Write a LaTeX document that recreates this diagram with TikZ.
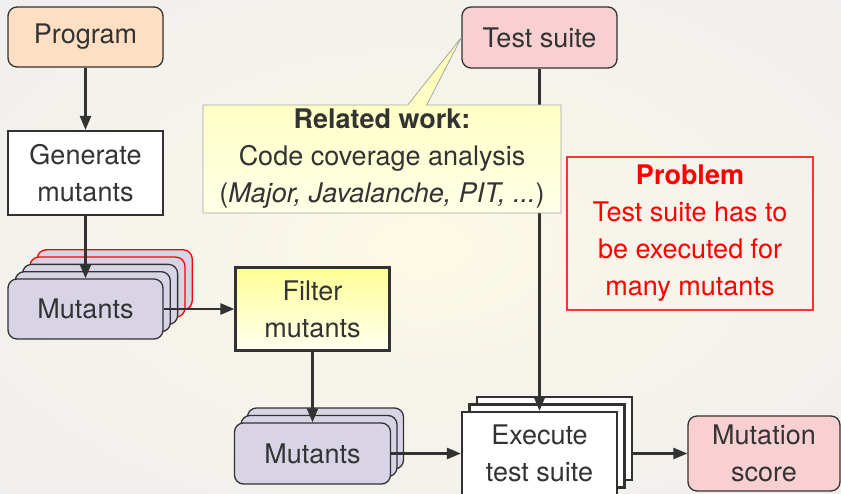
\documentclass[tikz,border=0pt]{standalone}
\usepackage{fontspec}
\setmainfont{TeX Gyre Heros}
\usetikzlibrary{arrows.meta,shapes.callouts}
\definecolor{bgin}{RGB}{253,250,228}
\definecolor{bgout}{RGB}{236,235,242}
\definecolor{txt}{RGB}{51,51,51}
\definecolor{edge}{RGB}{50,50,50}
\definecolor{peach}{RGB}{253,224,196}
\definecolor{pinkf}{RGB}{248,208,210}
\definecolor{lav}{RGB}{216,212,230}
\definecolor{yelA}{RGB}{255,255,150}
\definecolor{yelB}{RGB}{255,255,240}
\definecolor{calA}{RGB}{255,255,175}
\definecolor{calB}{RGB}{255,255,232}
\definecolor{probred}{RGB}{255,0,0}
\pgfdeclareradialshading{bgshade}{\pgfpoint{0bp}{0bp}}{color(0bp)=(bgin); color(14bp)=(bgin!60!bgout); color(50bp)=(bgout); color(72bp)=(bgout)}
\tikzset{
  base/.style={font=\fontsize{27}{37}\selectfont, text=txt, align=center, inner sep=0pt},
  rbox/.style={base, rounded corners=9pt, draw=edge, line width=1.3pt},
  sbox/.style={base, draw=edge, line width=2.2pt, fill=white},
  mutbox/.style={rbox, fill=lav},
  arr/.style={-{Triangle[length=14pt,width=11pt]}, line width=2.4pt, draw=edge},
}
\begin{document}
\begin{tikzpicture}[x=1pt,y=-1pt]
\useasboundingbox (0,0) rectangle (841,494);
\shade[shading=bgshade] (0,0) rectangle (841,494);

% Program and generation
\node[rbox, fill=peach, minimum width=155pt, minimum height=60pt] (prog) at (85.5,37) {Program};
\node[sbox, minimum width=155pt, minimum height=84pt] (gen) at (85.5,173) {Generate\\mutants};

% left mutants stack
\node[mutbox, draw=red, minimum width=155pt, minimum height=60pt] (m4) at (114.7,279.8) {};
\node[mutbox, draw=red, minimum width=155pt, minimum height=60pt] (m3) at (107.4,287.1) {};
\node[mutbox, minimum width=155pt, minimum height=60pt] (m2) at (100.1,294.4) {};
\node[mutbox, minimum width=155pt, minimum height=60pt] (m1) at (92.8,301.7) {};
\node[mutbox, minimum width=155pt, minimum height=60pt] (m0) at (85.5,309) {Mutants};

% filter
\node[base, draw=edge, line width=2.2pt, top color=yelA, bottom color=yelB, minimum width=154pt, minimum height=83pt] (filt) at (312.5,309) {Filter\\mutants};

% second mutants stack
\node[mutbox, minimum width=156pt, minimum height=61pt] (n2) at (325.5,438.5) {};
\node[mutbox, minimum width=156pt, minimum height=61pt] (n1) at (319,446) {};
\node[mutbox, minimum width=156pt, minimum height=61pt] (n0) at (312.5,453.5) {Mutants};

% test suite
\node[rbox, fill=pinkf, minimum width=155pt, minimum height=61pt] (ts) at (539.5,37.5) {Test suite};

% execute stack
\node[sbox, minimum width=155pt, minimum height=83pt] (ex2) at (554.5,438.5) {};
\node[sbox, minimum width=155pt, minimum height=83pt] (ex1) at (547,446) {};
\node[sbox, minimum width=155pt, minimum height=83pt] (ex0) at (539.5,453.5) {Execute\\test suite};

% mutation score
\node[rbox, fill=pinkf, minimum width=152pt, minimum height=75pt] (ms) at (764,453.5) {Mutation\\score};

% arrows
\draw[arr] (ts.south) -- (ts.south |- ex0.north);
\draw[arr] (prog.south) -- (gen.north);
\draw[arr] (gen.south) -- (m0.north);
\draw[arr] (m0.east) -- (m0.east -| filt.west);
\draw[arr] (filt.south) -- (filt.south |- n0.north);
\draw[arr] (n0.east) -- (n0.east -| ex0.west);
\draw[arr] (ex2.east |- ms.west) -- (ms.west);

% related work callout
\node[base, rectangle callout, callout absolute pointer={(ts.west)}, callout pointer width=19pt,
      draw=gray!70, line width=0.8pt, top color=calA, bottom color=calB,
      minimum width=358pt, minimum height=108pt] (rw) at (382,159)
  {\textbf{Related work:}\\Code coverage analysis\\(\textit{Major, Javalanche, PIT, ...})};

% problem box
\node[base, draw=probred!80, line width=1.5pt, text=probred, minimum width=246pt, minimum height=153pt] (prob) at (690,233.5)
  {\textbf{Problem}\\Test suite has to\\be executed for\\many mutants};
\end{tikzpicture}
\end{document}
